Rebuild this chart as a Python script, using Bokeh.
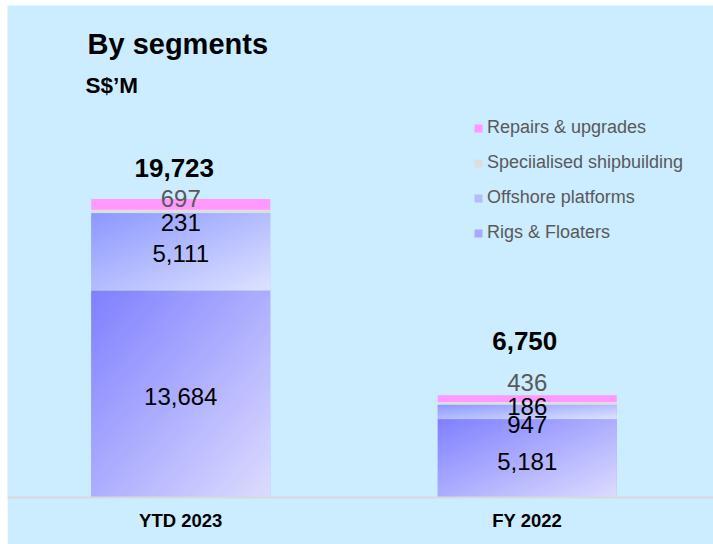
import numpy as np
from bokeh.plotting import figure
from bokeh.models import ColumnDataSource, Range1d, FixedTicker, Legend, LegendItem, Label
from bokeh.core.properties import value
from bokeh.embed import file_html
from bokeh.resources import INLINE

# ---------------- data ----------------
categories = ["YTD 2023", "FY 2022"]
segments = ["Rigs & Floaters", "Offshore platforms", "Speciialised shipbuilding", "Repairs & upgrades"]
rigs = [13684, 5181]
offshore = [5111, 947]
specialised = [231, 186]
repairs = [697, 436]
totals = [19723, 6750]

# ---------------- style ----------------
FONT = "Liberation Sans"
BG = "#CCECFF"
W, H = 706, 539
BOTTOM = 47
PX_PER_UNIT = 0.01513
SLOT_PX = 346.5
BAR_W = 179 / SLOT_PX
seg_fill = ["#A8A8FF", "#B4BCFF", "#DEDEDE", "#FF99FF"]
seg_grad = [((128, 128, 255), (220, 220, 255)),
            ((140, 152, 255), (222, 226, 255)),
            None, None]
seg_label_color = ["#000000", "#000000", "#000000", "#595959"]
# per-label vertical nudges in pixels (rows: segments, cols: categories)
seg_label_dy = [[2.5, 3.0], [2.0, 12.5], [11.0, 3.0], [-6.0, -16.0]]
total_dy = [-30.6, -54.4]
total_dx = [-6.5, -2.5]

xs = [i + 0.5 for i in range(len(categories))]
ytop = (H - BOTTOM) / PX_PER_UNIT

p = figure(width=W, height=H, output_backend="svg", toolbar_location=None,
           x_range=Range1d(0, W / SLOT_PX), y_range=Range1d(0, ytop),
           y_axis_location=None,
           min_border_left=0, min_border_right=0, min_border_top=0, min_border_bottom=BOTTOM,
           background_fill_color=BG, border_fill_color=BG, outline_line_color=None)
p.styles = {"margin-left": "7px", "margin-top": "5px"}
p.xgrid.visible = False
p.ygrid.visible = False

ax = p.xaxis[0]
ax.ticker = FixedTicker(ticks=xs)
ax.major_label_overrides = {x: c for x, c in zip(xs, categories)}
ax.axis_line_color = "#D9D9D9"
ax.axis_line_width = 2
ax.major_tick_line_color = None
ax.minor_tick_line_color = None
ax.major_label_text_font = FONT
ax.major_label_text_font_style = "bold"
ax.major_label_text_font_size = "18.5px"
ax.major_label_text_color = "#000000"
ax.major_label_standoff = 6


def gradient(c1, c2, n=120):
    u = np.linspace(0, 1, n)[None, :]
    vtop = np.linspace(1, 0, n)[:, None]
    t = (u + vtop) / 2.0
    img = np.empty((n, n), dtype=np.uint32)
    v = img.view(dtype=np.uint8).reshape((n, n, 4))
    for ch in range(3):
        v[:, :, ch] = np.round(c1[ch] + (c2[ch] - c1[ch]) * t).astype(np.uint8)
    v[:, :, 3] = 255
    return img


series = [rigs, offshore, specialised, repairs]
bottoms = [0.0] * len(categories)
renderers = []
lab_x, lab_y, lab_t, lab_c, lab_dy = [], [], [], [], []
img_src = dict(image=[], x=[], y=[], dw=[], dh=[])
for si, vals in enumerate(series):
    tops = [b + v for b, v in zip(bottoms, vals)]
    src = ColumnDataSource(dict(x=xs, bottom=list(bottoms), top=tops))
    r = p.vbar(x="x", bottom="bottom", top="top", width=BAR_W, source=src,
               fill_color=seg_fill[si], line_color=None)
    renderers.append(r)
    if seg_grad[si] is not None:
        for ci in range(len(categories)):
            img_src["image"].append(gradient(*seg_grad[si]))
            img_src["x"].append(xs[ci] - BAR_W / 2)
            img_src["y"].append(bottoms[ci])
            img_src["dw"].append(BAR_W)
            img_src["dh"].append(vals[ci])
    for ci in range(len(categories)):
        lab_x.append(xs[ci])
        lab_y.append((bottoms[ci] + tops[ci]) / 2)
        lab_t.append(f"{vals[ci]:,}")
        lab_c.append(seg_label_color[si])
        lab_dy.append(seg_label_dy[si][ci])
    bottoms = tops

p.image_rgba(image="image", x="x", y="y", dw="dw", dh="dh",
             source=ColumnDataSource(img_src))

p.text(x="x", y="y", text="t", text_color="c", y_offset="dy",
       source=ColumnDataSource(dict(x=lab_x, y=lab_y, t=lab_t, c=lab_c, dy=lab_dy)),
       text_font=value(FONT), text_font_size="24px", text_align="center",
       text_baseline="middle")

p.text(x="x", y="y", text="t", x_offset="dx", y_offset="dy",
       source=ColumnDataSource(dict(x=xs, y=totals, t=[f"{t:,}" for t in totals],
                                    dx=total_dx, dy=total_dy)),
       text_font=value(FONT), text_font_size="26px", text_font_style="bold",
       text_color="#000000", text_align="center", text_baseline="middle")

legend = Legend(items=[LegendItem(label=segments[i], renderers=[renderers[i]]) for i in (3, 2, 1, 0)],
                location=(466, 254), glyph_width=10, glyph_height=10, label_standoff=4,
                label_text_font=FONT, label_text_font_size="18px", label_text_color="#595959",
                label_height=20, spacing=14, padding=0, margin=0,
                border_line_color=None, background_fill_alpha=0)
p.add_layout(legend)

p.add_layout(Label(x=80, y=453.5, x_units="screen", y_units="screen", text="By segments",
                   text_font=FONT, text_font_size="29px", text_font_style="bold",
                   text_color="#000000", text_baseline="alphabetic"))
p.add_layout(Label(x=78, y=412, x_units="screen", y_units="screen", text="S$\u2019M",
                   text_font=FONT, text_font_size="22.5px", text_font_style="bold",
                   text_color="#000000", text_baseline="alphabetic"))

open("out.html", "w").write(file_html(p, INLINE))
